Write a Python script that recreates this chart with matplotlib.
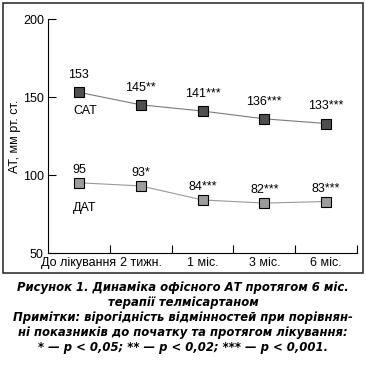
import matplotlib
matplotlib.use("Agg")
import matplotlib.pyplot as plt
from matplotlib.patches import Rectangle

plt.rcParams['font.family'] = ['Liberation Sans', 'DejaVu Sans']

# data
periods = ["До лікування", "2 тижн.", "1 міс.", "3 міс.", "6 міс."]
sat = [153, 145, 141, 136, 133]
dat = [95, 93, 84, 82, 83]
sat_marks = ["", "**", "***", "***", "***"]
dat_marks = ["", "*", "***", "***", "***"]

caption = ("Рисунок 1. Динаміка офісного АТ протягом 6 міс.\n"
           "терапії телмісартаном\n"
           "Примітки: вірогідність відмінностей при порівнян-\n"
           "ні показників до початку та протягом лікування:\n"
           "* — p < 0,05; ** — p < 0,02; *** — p < 0,001.")

W, H = 366, 367
fig = plt.figure(figsize=(W / 100, H / 100), dpi=100)
ax = fig.add_axes([48 / W, 1 - 253 / H, (357 - 48) / W, (253 - 19) / H])

x = list(range(len(periods)))
ax.plot(x, sat, color="#7a7a7a", lw=0.8, marker="s", ms=7.5,
        mfc="#4f4f4f", mec="black", mew=0.8, zorder=3)
ax.plot(x, dat, color="#9a9a9a", lw=0.8, marker="s", ms=7.5,
        mfc="#9c9c9c", mec="black", mew=0.8, zorder=3)

for i in x:
    ax.annotate(f"{sat[i]}{sat_marks[i]}", (i, sat[i]), xytext=(0, 8),
                textcoords="offset points", ha="center", va="bottom", fontsize=9)
    ax.annotate(f"{dat[i]}{dat_marks[i]}", (i, dat[i]), xytext=(0, 5),
                textcoords="offset points", ha="center", va="bottom", fontsize=9)

ax.text(0.1, sat[0] - 12, "САТ", ha="center", va="center", fontsize=9)
ax.text(0.1, dat[0] - 16, "ДАТ", ha="center", va="center", fontsize=9)

ax.set_xlim(-0.5, len(periods) - 0.5)
ax.set_ylim(50, 200)
ax.set_yticks([50, 100, 150, 200])
ax.set_xticks([i + 0.5 for i in x])
ax.set_xticklabels([])
ax.set_xticks(x, minor=True)
ax.set_xticklabels(periods, minor=True, fontsize=9)
ax.tick_params(axis="x", which="minor", length=0, pad=3)
ax.tick_params(axis="x", which="major", direction="in", length=6, width=0.8)
ax.tick_params(axis="y", direction="in", length=6, width=0.8, labelsize=9, pad=3)
for side in ["top", "right"]:
    ax.spines[side].set_visible(False)
for side in ["left", "bottom"]:
    ax.spines[side].set_linewidth(0.8)
ax.set_ylabel("АТ, мм рт. ст.", fontsize=9, labelpad=1)

fig.patches.append(Rectangle((3 / W, 1 - 273 / H), 360 / W, 270 / H,
                             transform=fig.transFigure, fill=False,
                             edgecolor="#222222", lw=1.1))

fig.text(0.5, 1 - 281 / H, caption, ha="center", va="top", fontsize=8.4,
         family="DejaVu Sans", fontweight="bold", fontstyle="italic",
         linespacing=1.2)

fig.savefig("out.png", dpi=100)
